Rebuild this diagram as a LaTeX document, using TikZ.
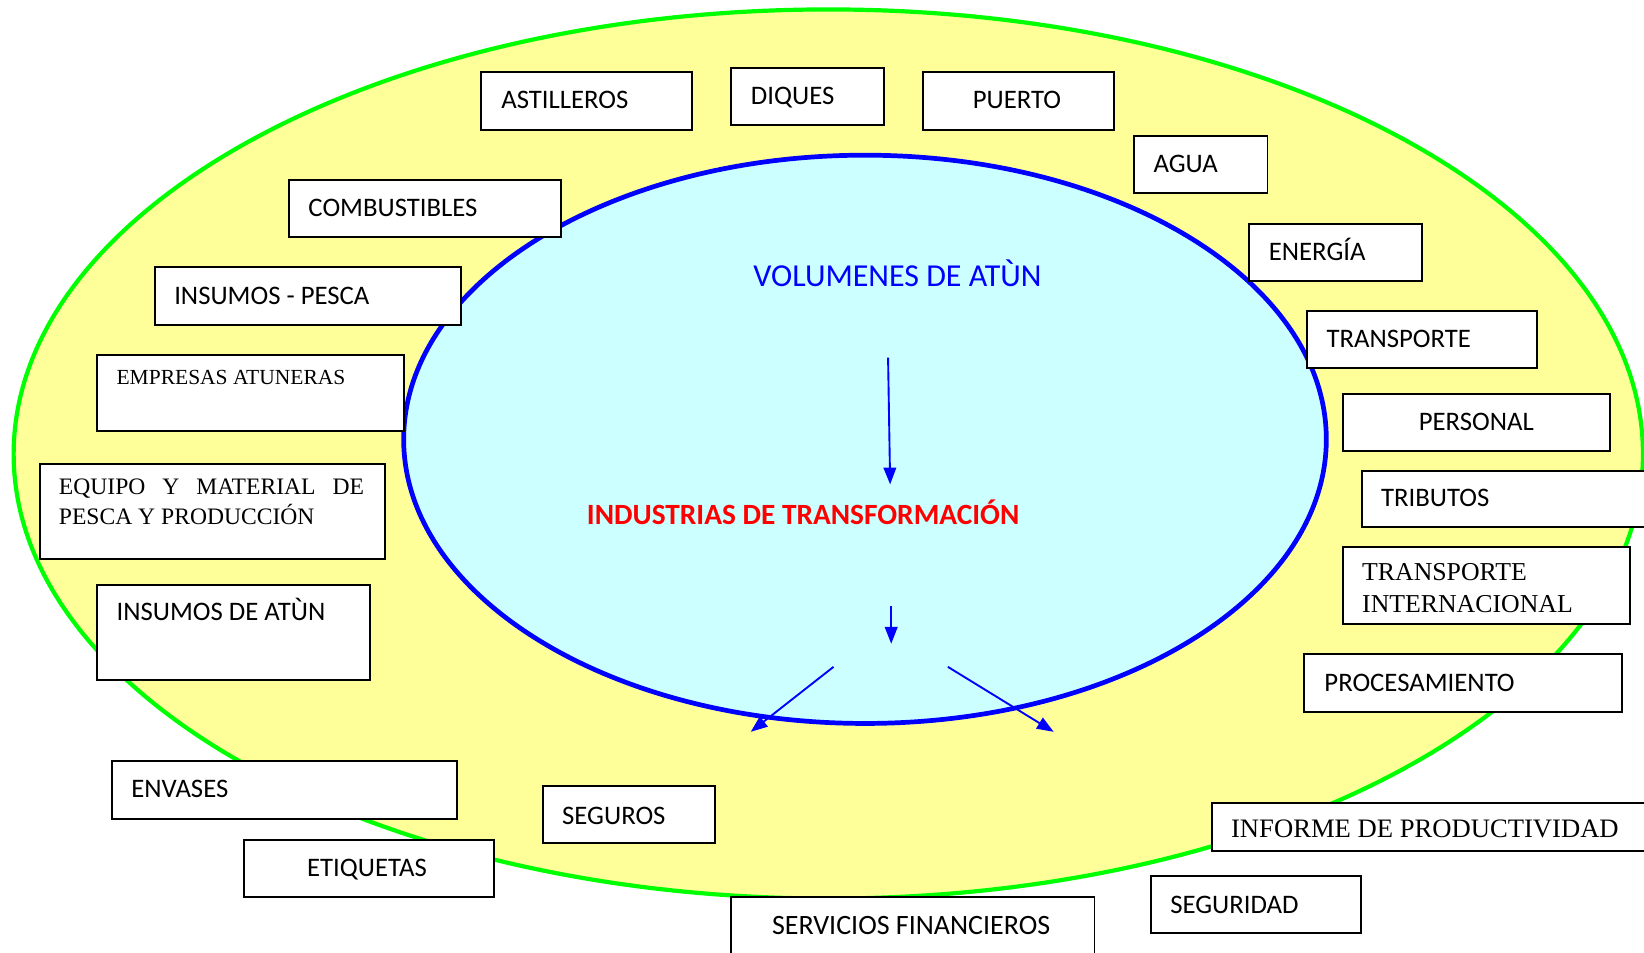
\documentclass[tikz,border=0pt]{standalone}
\usepackage{fontspec}
\setmainfont{Carlito}
\newfontfamily\tnr{Liberation Serif}
\usetikzlibrary{arrows.meta}
\definecolor{outerfill}{HTML}{FFFF99}
\definecolor{innerfill}{HTML}{CCFFFF}
\definecolor{ringgreen}{HTML}{00FF00}
\definecolor{ringblue}{HTML}{0000FF}
\newcommand\bx[5]{\node[box,minimum width={(#4-#2)*1pt},minimum height={(#5-#3)*1pt},anchor=north west] (#1) at (#2,#3) {};}
\tikzset{
  box/.style={draw=black,fill=white,line width=1.8pt,inner sep=0pt},
  lt/.style={inner sep=0pt,font=\fontsize{25.5}{30}\selectfont,text=black},
  ls/.style={inner sep=0pt,font=\tnr\fontsize{20.5}{24}\selectfont,text=black},
  flow/.style={draw=ringblue,line width=1.8pt,-{Triangle[length=16pt,width=12pt]}}
}
\begin{document}
\begin{tikzpicture}[x=1pt,y=-1pt]
\useasboundingbox (0,0) rectangle (1568,908);
\clip (0,0) rectangle (1568,908);
% rings
\coordinate (outer) at (790,433);
\coordinate (inner) at (825,419);
\path[draw=ringgreen,fill=outerfill,line width=4pt] (outer) ellipse [x radius=777pt,y radius=424pt];
\path[draw=ringblue,fill=innerfill,line width=4.5pt] (inner) ellipse [x radius=440pt,y radius=271pt];
% centre texts
\node[inner sep=0pt,anchor=base,text=ringblue,font=\fontsize{30.5}{34}\selectfont] (vol) at (856,273) {VOLUMENES DE ATÙN};
\node[inner sep=0pt,anchor=base,text=red,font=\bfseries\fontsize{28}{32}\selectfont] (ind) at (766,500) {INDUSTRIAS DE TRANSFORMACIÓN};
% arrows
\coordinate (a1s) at (847,341); \coordinate (a1e) at (849,462);
\coordinate (a2s) at (850,578); \coordinate (a2e) at (850,614);
\coordinate (a3s) at (795,636); \coordinate (a3e) at (716,698);
\coordinate (a4s) at (904,636); \coordinate (a4e) at (1005,698);
\draw[flow] (a1s) -- (a1e);
\draw[flow] (a2s) -- (a2e);
\draw[flow] (a3s) -- (a3e);
\draw[flow] (a4s) -- (a4e);
% boxes
\bx{astilleros}{458}{68}{659}{123}
\node[lt,anchor=base west] (astilleros-t) at (478,103.5) {ASTILLEROS};
\bx{diques}{696}{64}{842}{118}
\node[lt,anchor=base west] (diques-t) at (716,99.5) {DIQUES};
\bx{puerto}{879}{68}{1062}{123}
\node[lt,anchor=base] (puerto-t) at (970,103.5) {PUERTO};
\bx{agua}{1081}{129}{1208}{183}
\node[lt,anchor=base west] (agua-t) at (1100,164.5) {AGUA};
\bx{combustibles}{275}{171}{534}{225}
\node[lt,anchor=base west] (combustibles-t) at (294,206.5) {COMBUSTIBLES};
\bx{energia}{1190}{213}{1355}{267}
\node[lt,anchor=base west] (energia-t) at (1210,248.5) {ENERGÍA};
\bx{inspesca}{147}{254}{439}{309}
\node[lt,anchor=base west] (inspesca-t) at (166,290.5) {INSUMOS - PESCA};
\bx{transporte}{1246}{296}{1465}{350}
\node[lt,anchor=base west] (transporte-t) at (1265,331.5) {TRANSPORTE};
\bx{empresas}{92}{338}{384}{410}
\node[ls,anchor=base west] (empresas-t) at (111,367) {EMPRESAS ATUNERAS};
\bx{personal}{1280}{375}{1535}{429}
\node[lt,anchor=base] (personal-t) at (1408,410.5) {PERSONAL};
\bx{equipo}{37}{442}{366}{532}
\node[inner sep=0pt,anchor=base west,font=\tnr\fontsize{22.5}{28}\selectfont] (equipo-t1) at (56,472) {\makebox[291pt][s]{EQUIPO Y MATERIAL DE}};
\node[inner sep=0pt,anchor=base west,font=\tnr\fontsize{22.5}{28}\selectfont] (equipo-t2) at (56,500) {PESCA Y PRODUCCIÓN};
\bx{tributos}{1298}{448}{1600}{502}
\node[lt,anchor=base west] (tributos-t) at (1317,483.5) {TRIBUTOS};
\bx{transint}{1280}{521}{1554}{594}
\node[inner sep=0pt,anchor=base west,font=\tnr\fontsize{24.6}{30}\selectfont] (transint-t1) at (1299,554) {TRANSPORTE};
\node[inner sep=0pt,anchor=base west,font=\tnr\fontsize{24.6}{30}\selectfont] (transint-t2) at (1299,584) {INTERNACIONAL};
\bx{insatun}{92}{557}{352}{648}
\node[lt,anchor=base west] (insatun-t) at (111,591.5) {INSUMOS DE ATÙN};
\bx{procesamiento}{1243}{623}{1546}{678}
\node[lt,anchor=base west] (procesamiento-t) at (1263,659.5) {PROCESAMIENTO};
\bx{envases}{106}{725}{435}{780}
\node[lt,anchor=base west] (envases-t) at (125,760.5) {ENVASES};
\bx{seguros}{517}{749}{681}{803}
\node[lt,anchor=base west] (seguros-t) at (536,786.5) {SEGUROS};
\bx{informe}{1155}{765}{1600}{811}
\node[inner sep=0pt,anchor=base west,font=\tnr\fontsize{25.4}{30}\selectfont] (informe-t) at (1174,799) {INFORME DE PRODUCTIVIDAD};
\bx{etiquetas}{232}{800}{470}{855}
\node[lt,anchor=base] (etiquetas-t) at (350,835.5) {ETIQUETAS};
\bx{servicios}{696}{855}{1043}{930}
\node[inner sep=0pt,anchor=base,font=\fontsize{26.7}{30}\selectfont] (servicios-t) at (869,891.5) {SERVICIOS FINANCIEROS};
\bx{seguridad}{1097}{835}{1297}{889}
\node[lt,anchor=base west] (seguridad-t) at (1116,871.5) {SEGURIDAD};
\end{tikzpicture}
\end{document}
